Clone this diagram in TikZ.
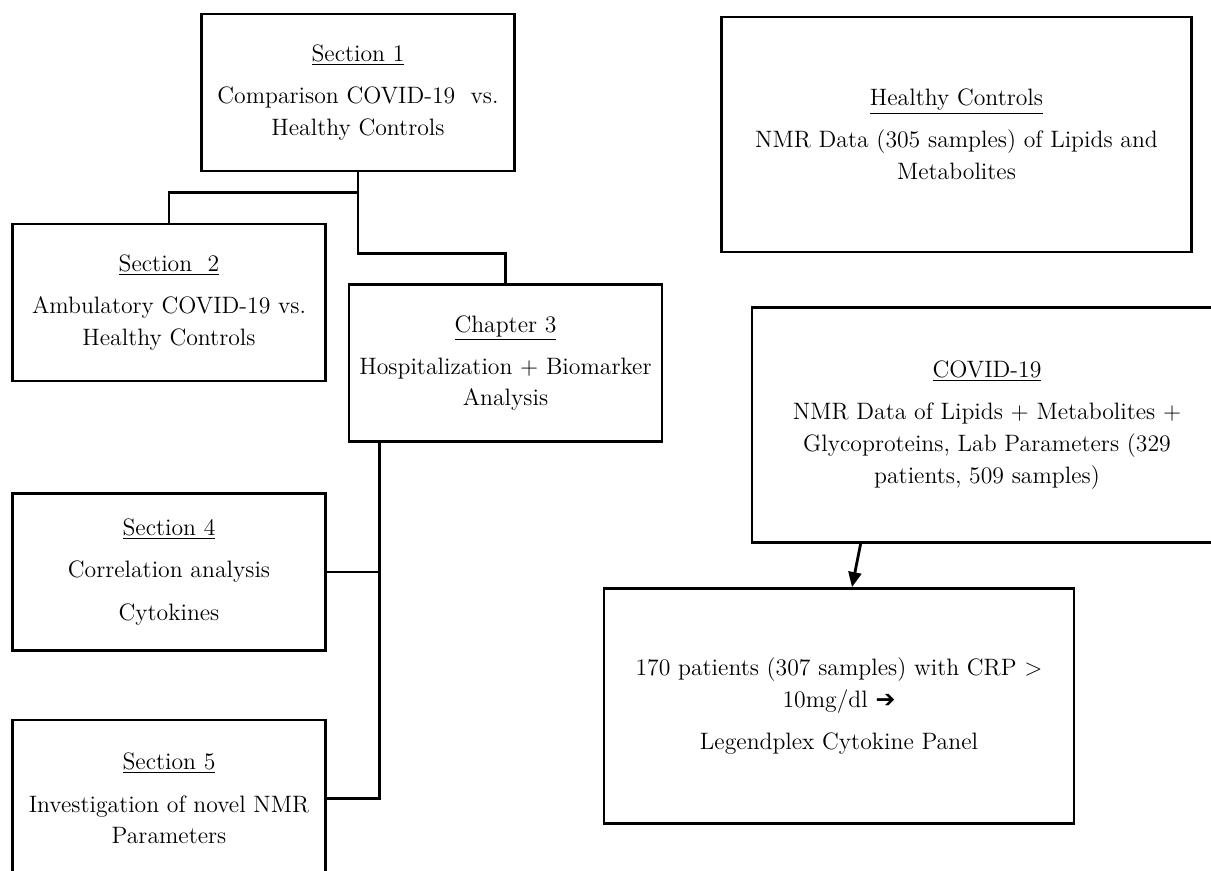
\documentclass[tikz,border=0pt]{standalone}
\usepackage{fontspec}
\newfontfamily\arrowfont{DejaVu Sans}
\usetikzlibrary{arrows.meta}

\tikzset{
  secbox/.style={draw, line width=1.6pt, minimum width=6.26cm, minimum height=3.14cm, align=center, inner sep=2pt},
  databox/.style={draw, line width=1.6pt, minimum width=9.4cm, minimum height=4.7cm, align=center, inner sep=2pt},
  link/.style={line width=1.6pt},
}

\begin{document}
\begin{tikzpicture}[x=0.02cm, y=-0.02cm, font=\fontsize{13.5}{18}\selectfont]
    \useasboundingbox (0,0) rectangle (1211,871);
    \clip (0,0) rectangle (1211,871);

    % left column: sections
    \node[secbox] (sec1) at (358,92.5) {\underline{Section 1}\\[6pt]Comparison COVID-19\ \ vs.\\Healthy Controls};
    \node[secbox] (sec2) at (169,302.5) {\underline{Section\ \ 2}\\[6pt]Ambulatory COVID-19 vs.\\Healthy Controls};
    \node[secbox] (chap3) at (505.5,363) {\underline{Chapter 3}\\[6pt]Hospitalization + Biomarker\\Analysis};
    \node[secbox] (sec4) at (169,572) {\underline{Section 4}\\[6pt]Correlation analysis\\[6pt]Cytokines};
    \node[secbox] (sec5) at (169,798.5) {\underline{Section 5}\\[6pt]Investigation of novel NMR\\Parameters};

    % tree lines
    \draw[link] (sec1.south) -- ++(0,20) -| (sec2.north);
    \draw[link] (sec1.south) -- ++(0,81) -| (chap3.north);
    \coordinate (bus) at ([xshift=0.64cm]chap3.south west);
    \draw[link] (bus) |- (sec5.east);
    \draw[link] (sec4.east) -- (sec4.east -| bus);

    % right column: data
    \node[databox] (healthy) at (956.5,134.5) {\underline{Healthy Controls}\\[6pt]NMR Data (305 samples) of Lipids and\\Metabolites};
    \node[databox] (covid) at (987,425) {\underline{COVID-19}\\[6pt]NMR Data of Lipids + Metabolites +\\Glycoproteins, Lab Parameters (329\\patients, 509 samples)};
    \node[databox] (lab) at (839,706) {170 patients (307 samples) with CRP >\\10mg/dl {\arrowfont ➔}\\[6pt]Legendplex Cytokine Panel};

    \draw[link, -{Triangle[length=3mm, width=2.6mm]}] ([xshift=2.2cm]covid.south west) -- ([xshift=0.26cm]lab.north);
\end{tikzpicture}
\end{document}
